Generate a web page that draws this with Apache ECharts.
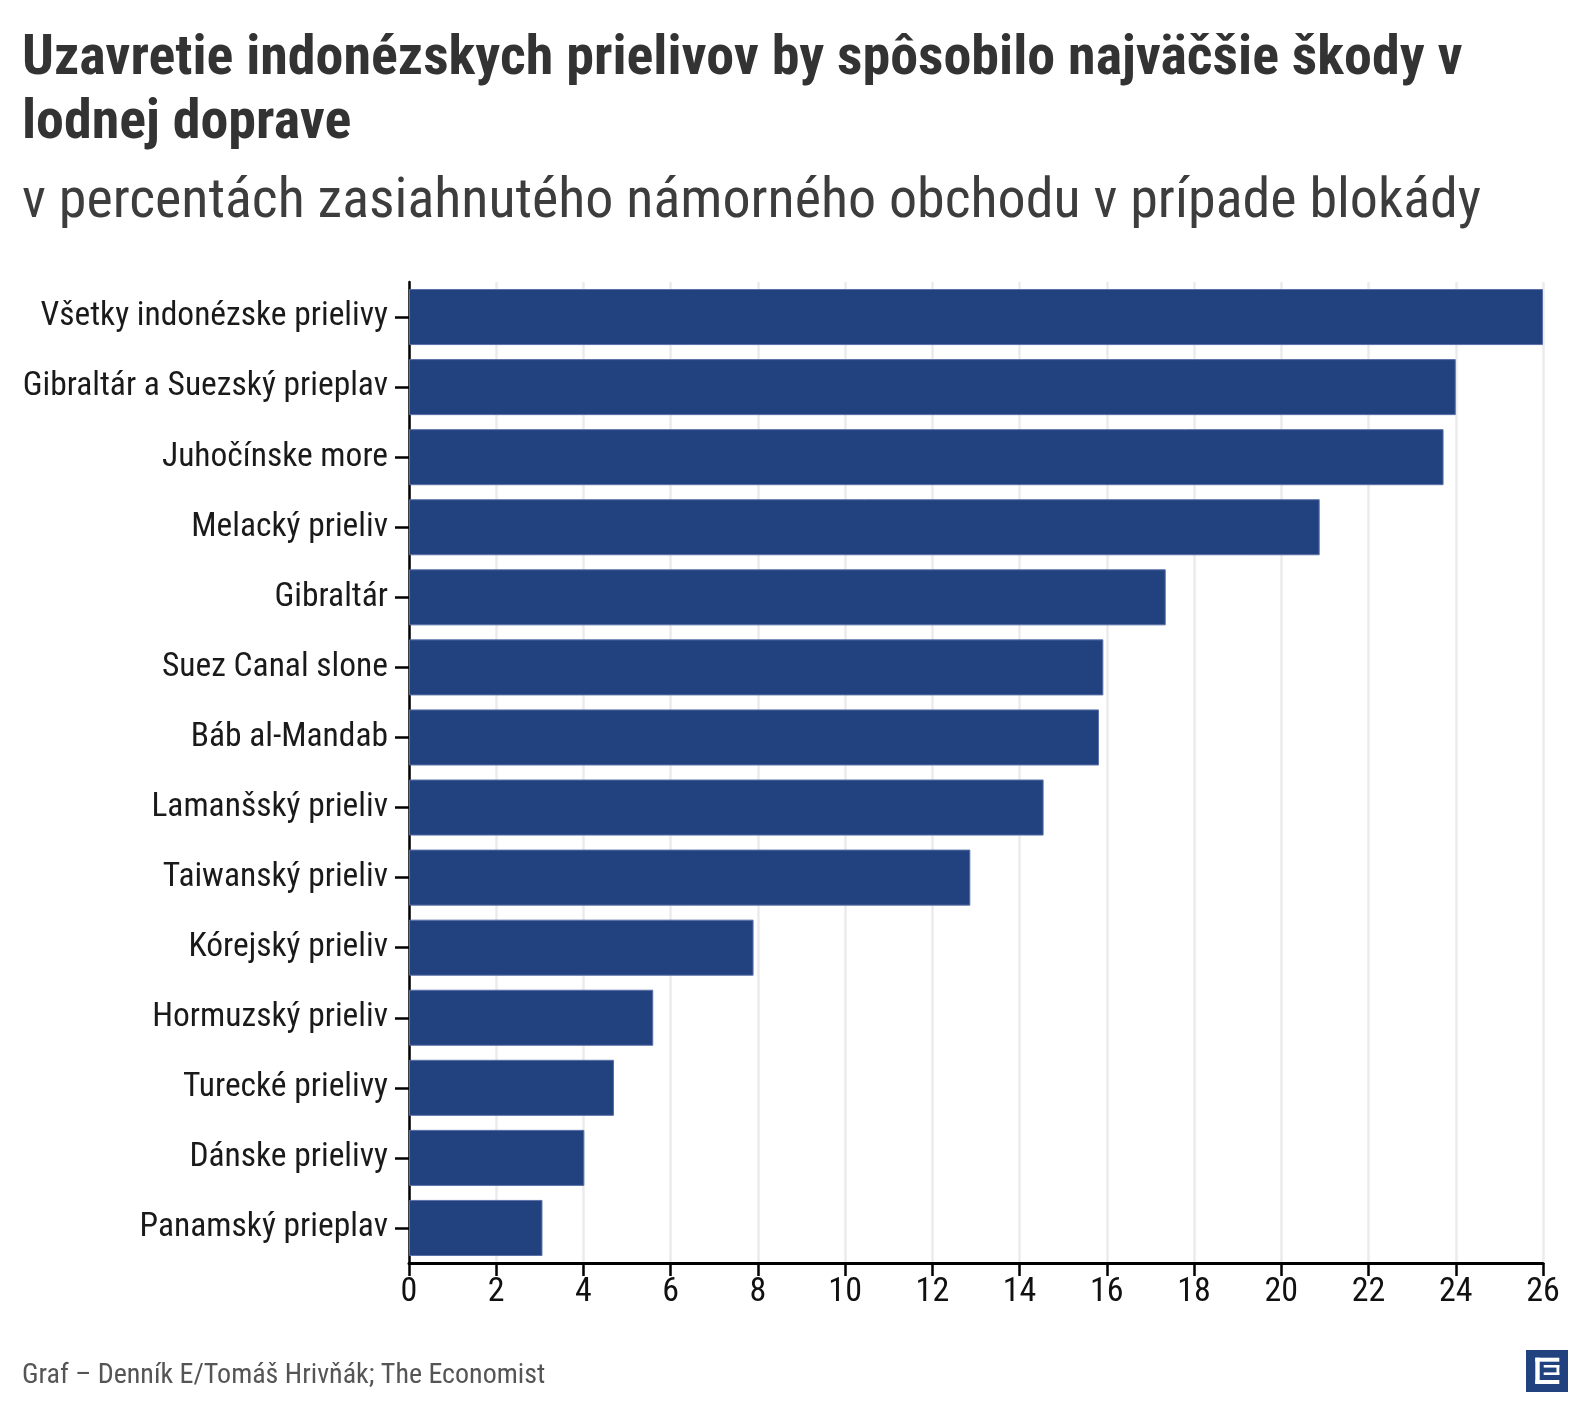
<!DOCTYPE html>
<html>
<head>
<meta charset="utf-8">
<style>
  html, body { margin: 0; padding: 0; background: #ffffff; }
  #chart { width: 1588px; height: 1420px; }
</style>
<script src="https://cdn.jsdelivr.net/npm/echarts@6/dist/echarts.min.js"></script>
</head>
<body>
<div id="chart"></div>
<script>
const titleLines = ['Uzavretie indonézskych prielivov by spôsobilo najväčšie škody v', 'lodnej doprave'];
const subtitle = 'v percentách zasiahnutého námorného obchodu v prípade blokády';
const source = 'Graf – Denník E/Tomáš Hrivňák; The Economist';

const categories = [
  'Všetky indonézske prielivy',
  'Gibraltár a Suezský prieplav',
  'Juhočínske more',
  'Melacký prieliv',
  'Gibraltár',
  'Suez Canal slone',
  'Báb al-Mandab',
  'Lamanšský prieliv',
  'Taiwanský prieliv',
  'Kórejský prieliv',
  'Hormuzský prieliv',
  'Turecké prielivy',
  'Dánske prielivy',
  'Panamský prieplav'
];
const values = [26.0, 24.0, 23.72, 20.88, 17.35, 15.92, 15.82, 14.55, 12.87, 7.9, 5.6, 4.7, 4.02, 3.06];

const FONT = '"Roboto Condensed", "Liberation Sans Narrow", "DejaVu Sans Condensed", "Roboto", sans-serif';

const chart = echarts.init(document.getElementById('chart'), null, { renderer: 'canvas' });

const option = {
  backgroundColor: '#ffffff',
  animation: false,
  textStyle: { fontFamily: FONT },
  grid: { left: 409, right: 45, top: 282, bottom: 157, containLabel: false },
  xAxis: {
    type: 'value',
    min: 0,
    max: 26,
    interval: 2,
    axisLine: { show: true, lineStyle: { color: '#000', width: 3 } },
    axisTick: { show: true, length: 13, lineStyle: { color: '#000', width: 2.5 } },
    axisLabel: { color: '#111', fontSize: 34, fontFamily: FONT, margin: 12 },
    splitLine: { show: true, lineStyle: { color: '#ebebeb', width: 2.5 } }
  },
  yAxis: {
    type: 'category',
    data: categories,
    inverse: true,
    axisLine: { show: true, lineStyle: { color: '#000', width: 2.5 } },
    axisTick: { show: true, alignWithLabel: true, length: 14, lineStyle: { color: '#000', width: 2.5 } },
    axisLabel: { color: '#1a1a1a', fontSize: 33.5, fontFamily: FONT, margin: 21 },
    splitLine: { show: false }
  },
  series: [{
    type: 'bar',
    data: values,
    barCategoryGap: '20%',
    itemStyle: { color: '#22427f', borderColor: '#5b70a8', borderWidth: 1 }
  }],
  graphic: [
    { type: 'text', left: 22, top: 32, style: { text: titleLines[0], font: 'bold 56px ' + FONT, fill: '#333333' } },
    { type: 'text', left: 22, top: 96, style: { text: titleLines[1], font: 'bold 56px ' + FONT, fill: '#333333' } },
    { type: 'text', left: 22, top: 175, style: { text: subtitle, font: 'normal 56px ' + FONT, fill: '#3d3d3d' } },
    { type: 'text', left: 22, top: 1362, style: { text: source, font: 'normal 28px ' + FONT, fill: '#555555' } },
    {
      type: 'group', left: 1526, top: 1350,
      children: [
        { type: 'rect', shape: { x: 0, y: 0, width: 42, height: 42 }, style: { fill: '#22427f' } },
        { type: 'rect', shape: { x: 9.3, y: 7.7, width: 4.4, height: 26.3 }, style: { fill: '#ffffff' } },
        { type: 'rect', shape: { x: 9.3, y: 7.7, width: 24, height: 4 }, style: { fill: '#ffffff' } },
        { type: 'rect', shape: { x: 9.3, y: 30, width: 24, height: 4 }, style: { fill: '#ffffff' } },
        { type: 'rect', shape: { x: 17.7, y: 15, width: 15.6, height: 2.6 }, style: { fill: '#ffffff' } },
        { type: 'rect', shape: { x: 17.7, y: 22.4, width: 15.6, height: 2.6 }, style: { fill: '#ffffff' } },
        { type: 'rect', shape: { x: 30.5, y: 15, width: 2.8, height: 10 }, style: { fill: '#ffffff' } }
      ]
    }
  ]
};

chart.setOption(option);
</script>
</body>
</html>
